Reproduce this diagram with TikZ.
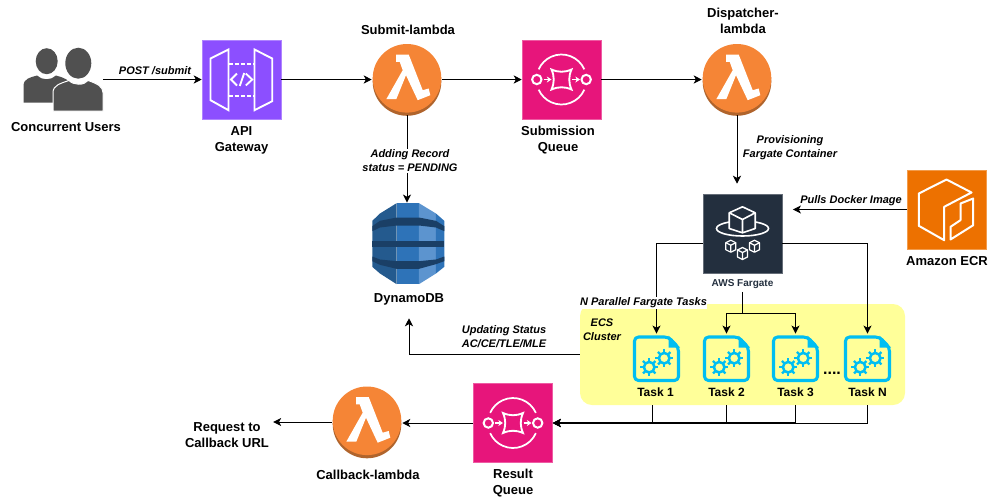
\documentclass[tikz,border=0pt]{standalone}
\usepackage{xcolor}
\usepackage{fontspec}
\setmainfont{Liberation Sans}
\definecolor{apipurple}{RGB}{140, 79, 255}
\definecolor{sqspink}{RGB}{231, 21, 123}
\definecolor{lambdaorange}{RGB}{245, 133, 54}
\definecolor{lambdashade}{RGB}{176, 100, 44}
\definecolor{ecrorange}{RGB}{237, 113, 0}
\definecolor{fargatenavy}{RGB}{35, 47, 62}
\definecolor{taskcyan}{RGB}{0, 190, 242}
\definecolor{clusteryellow}{RGB}{255, 255, 153}
\definecolor{usergray}{RGB}{80, 80, 80}
\definecolor{dynodark}{RGB}{36, 90, 142}
\definecolor{dynomid}{RGB}{46, 115, 184}
\definecolor{dynolight}{RGB}{92, 148, 207}
\definecolor{dynoband}{RGB}{26, 63, 102}
\usetikzlibrary{arrows.meta, positioning, calc}

\tikzset{
    lambdaicon/.pic={
        \fill[lambdashade] (0,2) circle (34.3);
        \fill[lambdaorange] (0,-1.2) circle (34.3);
        \fill[white] (-11,-25) -- (1.7,-25) -- (15.7,10.7) -- (21.7,9) -- (23.3,15.7) -- (10.7,20.7)
            -- (-1,-4.3) -- (-10.7,19.7) -- (-20.7,19.7) -- (-4.3,-9.3) -- (-7.3,-17.7) -- (-11,-17.7) -- cycle;
    },
    sqsicon/.pic={
        \draw[white, line width=1.3pt] (24:25) arc (24:156:25);
        \draw[white, line width=1.3pt] (-24:25) arc (-24:-156:25);
        \draw[white, line width=1.5pt] (-24.7,0) circle (4.7);
        \draw[white, line width=1.5pt] (24.7,0) circle (4.7);
        \draw[white, line width=1.4pt] (-10,-10) .. controls (-3,-7) and (3,-7) .. (10,-10)
            .. controls (7,-3) and (7,3) .. (10,10) .. controls (3,7) and (-3,7) .. (-10,10)
            .. controls (-7,3) and (-7,-3) .. (-10,-10) -- cycle;
        \draw[white, line width=1.4pt, -{Stealth[length=3.5pt,width=4.5pt]}] (-18,0) -- (-10,0);
        \draw[white, line width=1.4pt, -{Stealth[length=3.5pt,width=4.5pt]}] (10.5,0) -- (18.5,0);
    },
    smallcube/.pic={
        \draw[white, line width=.9pt, line join=round] (0,-6) -- (5,-3.5) -- (5,3.5) -- (0,6) -- (-5,3.5) -- (-5,-3.5) -- cycle;
        \draw[white, line width=.9pt, line join=round] (-5,-3.5) -- (0,-1) -- (5,-3.5) (0,-1) -- (0,6);
    },
    gearicon/.pic={
        \draw[taskcyan, line width=1.9pt] (0,0) circle (5.3);
        \foreach \a in {0,45,...,315} {
            \draw[taskcyan, line width=1.7pt] (\a:5.3) -- (\a:8.8);
        }
    },
    taskicon/.pic={
        \draw[taskcyan, line width=2.3pt, rounded corners=3pt, line join=round]
            (-22,-21.5) -- (12,-21.5) -- (22,-11) -- (22,22) -- (-22,22) -- cycle;
        \fill[taskcyan] (12,-23) -- (23.5,-11) -- (12,-11) -- cycle;
        \pic at (-7.3,8.7) {gearicon};
        \pic at (7.7,-0.3) {gearicon};
    }
}

\begin{document}
\begin{tikzpicture}[
    x=0.75pt, y=-0.75pt,
    >={Stealth[length=6pt, width=6pt, inset=1.6pt]},
    awsbox/.style={rectangle, draw=#1!70!white, fill=#1, minimum size=59.25pt, inner sep=0pt},
    lambdanode/.style={circle, minimum size=52.5pt, inner sep=0pt},
    tasknode/.style={rectangle, minimum width=35pt, minimum height=37pt, inner sep=0pt},
    svclabel/.style={align=center, inner sep=0pt, font=\fontsize{9.75}{12}\selectfont\bfseries},
    tasklabel/.style={inner sep=0pt, font=\fontsize{9}{11}\selectfont\bfseries},
    edgelabel/.style={align=center, inner sep=0pt, font=\fontsize{8.25}{10.5}\selectfont\bfseries\itshape},
    link/.style={->, line width=0.75pt}
]
    \useasboundingbox (0,0) rectangle (997,501);

    % Cluster
    \node[rectangle, fill=clusteryellow, rounded corners=9pt, minimum width=243.75pt, minimum height=75.75pt, inner sep=0pt] (cluster) at (742.5,354.5) {};

    % Services
    \node[rectangle, minimum width=60pt, minimum height=49.5pt, inner sep=0pt] (users) at (63,79.5) {};
    \node[awsbox=apipurple] (api) at (241.5,79.5) {};
    \node[lambdanode] (submit) at (407,79.5) {};
    \node[awsbox=sqspink] (subq) at (561.5,79.5) {};
    \node[lambdanode] (dispatch) at (737,79.5) {};
    \node[awsbox=fargatenavy] (fargate) at (742.5,233.5) {};
    \node[awsbox=ecrorange] (ecr) at (946.5,209.5) {};
    \node[rectangle, minimum width=54pt, minimum height=61pt, inner sep=0pt] (dynamo) at (408.3,243.5) {};
    \node[awsbox=sqspink] (resq) at (513,423) {};
    \node[lambdanode] (callback) at (367,422) {};
    \node[tasknode] (t1) at (656.5,358.5) {};
    \node[tasknode] (t2) at (726.5,358.5) {};
    \node[tasknode] (t3) at (795.5,358.5) {};
    \node[tasknode] (tn) at (867.5,358.5) {};

    % Icons
    \begin{scope}[shift={(users.center)}]
        \fill[usergray] (-16.3,-18.3) ellipse (11 and 13);
        \fill[usergray] (-39.5,23) -- (-39.5,6) .. controls (-39,-1) and (-33,-2) .. (-26,-4)
            .. controls (-21,1) and (-12,1) .. (-7,-4) .. controls (0,-2) and (8,0) .. (8,8) -- (8,23) -- cycle;
        \draw[usergray, fill=usergray, draw=white, line width=.75pt] (-10,31.5) -- (-10,13) .. controls (-10,6) and (-3,4) .. (6,1)
            .. controls (11,6) and (21,6) .. (25,1) .. controls (34,4) and (40,7) .. (40,13) -- (40,31.5) -- cycle;
        \fill[usergray] (15.3,-16.3) ellipse (13 and 15.5);
    \end{scope}
    \begin{scope}[shift={(api.center)}, white, line width=1.4pt]
        \draw (-31,-21) -- (-13,-30) -- (-13,30.7) -- (-31,20.7) -- cycle;
        \draw (13,-30) -- (30.7,-21) -- (30.7,21.7) -- (13,30.7) -- cycle;
        \draw[dash pattern=on 3pt off 1.6pt] (-13,-15.5) -- (13,-15.5);
        \draw[dash pattern=on 3pt off 1.6pt] (-13,16.5) -- (13,16.5);
        \draw (-4.5,-6) -- (-10.5,0) -- (-4.5,6);
        \draw (-1.7,6.5) -- (2.7,-6.5);
        \draw (4.3,-6) -- (10.7,0) -- (4.3,6);
    \end{scope}
    \pic at (submit.center) {lambdaicon};
    \pic at (dispatch.center) {lambdaicon};
    \pic at (callback.center) {lambdaicon};
    \pic at (subq.center) {sqsicon};
    \pic at (resq.center) {sqsicon};
    \begin{scope}[shift={(fargate.center)}]
        \draw[white, line width=1.2pt] (0,-5) ellipse (26 and 7.5);
        \draw[white, fill=fargatenavy, line width=1.2pt, line join=round] (0,-26.7) -- (12.7,-20.7) -- (12.7,-5) -- (0,-0.7) -- (-13.3,-5) -- (-13.3,-20.7) -- cycle;
        \draw[white, line width=1.2pt, line join=round] (-13.3,-20.7) -- (0,-14) -- (12.7,-20.7) (0,-14) -- (0,-0.7);
        \pic at (-11.7,12.7) {smallcube};
        \pic at (12,12.7) {smallcube};
        \pic at (0,20) {smallcube};
    \end{scope}
    \begin{scope}[shift={(ecr.center)}, white, line width=1.5pt, line join=round]
        \draw (0,-30) -- (25,-17) -- (-2.3,-2.7) -- (-2.3,30.7) -- (-27.7,16.3) -- (-27.7,-16) -- cycle;
        \draw (26.7,-11) -- (14,-6) -- (14,10.7) -- (4,17.3) -- (4,30) -- (26.7,15.7) -- cycle;
    \end{scope}
    \begin{scope}[shift={(dynamo.center)}, x=0.25pt, y=-0.25pt, xshift=-51.25pt, yshift=47.5pt]
        \fill[dynodark] (97,122) -- (120,100) -- (170,69) -- (170,312) -- (120,280) -- (97,260) -- cycle;
        \fill[dynomid] (170,69) rectangle (237,312);
        \fill[dynolight] (237,69) -- (288,100) -- (288,280) -- (237,312) -- cycle;
        \fill[dynomid] (288,100) -- (313,122) -- (313,260) -- (288,280) -- cycle;
        \fill[dynoband] (97,138) -- (120,122) -- (170,112) -- (237,112) -- (288,122) -- (313,138)
            -- (313,153) -- (288,142) -- (237,136) -- (170,136) -- (120,142) -- (97,153) -- cycle;
        \fill[dynoband] (97,182) rectangle (313,199);
        \fill[dynoband] (97,229) -- (120,238) -- (170,243) -- (237,243) -- (288,238) -- (313,229)
            -- (313,243) -- (288,252) -- (237,266) -- (170,266) -- (120,254) -- (97,243) -- cycle;
    \end{scope}
    \pic at (t1.center) {taskicon};
    \pic at (t2.center) {taskicon};
    \pic at (t3.center) {taskicon};
    \pic at (tn.center) {taskicon};

    % Labels
    \node[svclabel] (usersl) at (66,127.5) {Concurrent Users};
    \node[svclabel] (apil) at (241.5,140.5) {API\\Gateway};
    \node[svclabel] (submitl) at (408,29.5) {Submit-lambda};
    \node[svclabel] (subql) at (558,140.5) {Submission\\Queue};
    \node[svclabel] (dispatchl) at (743,21) {Dispatcher-\\lambda};
    \node[svclabel] (ecrl) at (947,261.5) {Amazon ECR};
    \node[svclabel] (dynamol) at (409,299.5) {DynamoDB};
    \node[svclabel] (resql) at (513,483.5) {Result\\Queue};
    \node[svclabel] (callbackl) at (368,474.5) {Callback-lambda};
    \node[svclabel] (requestl) at (227,435.5) {Request to\\Callback URL};
    \node[inner sep=0pt, text=fargatenavy, font=\fontsize{7.5}{9}\selectfont\bfseries] (fargatel) at (742.5,284) {AWS Fargate};
    \node[tasklabel] (t1l) at (655.5,392) {Task 1};
    \node[tasklabel] (t2l) at (726.5,392) {Task 2};
    \node[tasklabel] (t3l) at (795.5,392) {Task 3};
    \node[tasklabel] (tnl) at (867.5,392) {Task N};
    \node[edgelabel] (ecsl) at (602,329.5) {ECS\\Cluster};
    \node[inner sep=0pt, font=\fontsize{12}{13}\selectfont\bfseries] (dotsl) at (832,373.5) {....};

    % Top row
    \draw[link] (users.east) -- (api.west);
    \draw[link] (api.east) -- (submit.west);
    \draw[link] (submit.east) -- (subq.west);
    \draw[link] (subq.east) -- (dispatch.west);
    \draw[link] (submit.south) -- (submit.south |- dynamo.north);
    \draw[link, shorten >=7.5pt] (dispatch.south) -- (dispatch.south |- fargate.north);
    \draw[link, shorten >=8pt] (ecr.west) -- (ecr.west -| fargate.east);

    % Fargate to tasks
    \coordinate (split) at (742.5,313);
    \draw[link] ($(fargate.west)+(0,9.5)$) -| (t1.north);
    \draw[link] ($(fargate.east)+(0,9.5)$) -| (tn.north);
    \draw[line width=0.75pt] (fargatel.south) ++(0,3) -- (split);
    \draw[link] (split) -| (t2.north);
    \draw[link] (split) -| (t3.north);

    % Tasks to queues
    \coordinate (t1out) at (652.5,405);
    \draw[link] (tnl.south |- cluster.south) |- (resq.east);
    \draw[link] (t2l.south |- cluster.south) |- (resq.east);
    \draw[link, line width=1.4pt] (t3l.south |- cluster.south) |- (resq.east);
    \draw[line width=0.75pt] (t3l.south |- cluster.south) -- ++(0,18);
    \draw[link] (t1out) |- (resq.east);
    \draw[link, shorten >=9.5pt] (cluster.west) -| (dynamol.south);
    \draw[link] (resq.west) -- (resq.west -| callback.east);
    \draw[link, shorten >=3pt] (callback.west) -- (callback.west -| requestl.east);

    % Edge labels
    \node[edgelabel] (postl) at (155,71) {POST /submit};
    \node[edgelabel, fill=white, inner ysep=1pt] (addl) at (410,161) {Adding Record\\status = PENDING};
    \node[edgelabel] (provl) at (790,147.5) {Provisioning\\Fargate Container};
    \node[edgelabel] (pulll) at (851,201) {Pulls Docker Image};
    \node[edgelabel, fill=white, inner ysep=1pt] (parl) at (643.5,303) {N Parallel Fargate Tasks};
    \node[edgelabel] (updl) at (504,337) {Updating Status\\AC/CE/TLE/MLE};
\end{tikzpicture}
\end{document}
